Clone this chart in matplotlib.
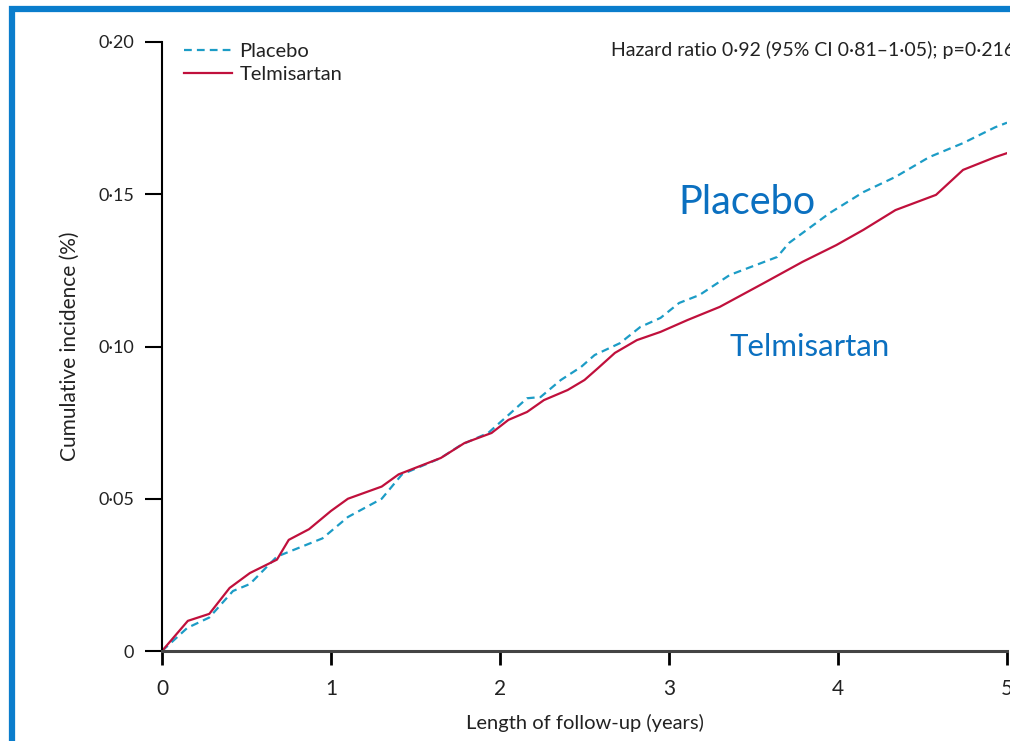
import matplotlib
matplotlib.use("Agg")
from matplotlib import pyplot as plt
from matplotlib.patches import Rectangle

# cumulative incidence (years, proportion)
placebo_x = [0, 0.15, 0.28, 0.42, 0.52, 0.68, 0.77, 0.95, 1.1, 1.3, 1.42, 1.65, 1.77,
             1.93, 2.06, 2.16, 2.24, 2.36, 2.48, 2.56, 2.71, 2.83, 2.95, 3.06, 3.18,
             3.36, 3.64, 3.71, 3.95, 4.15, 4.34, 4.54, 4.74, 4.93, 5.0]
placebo_y = [0, 0.0076, 0.011, 0.0197, 0.022, 0.031, 0.033, 0.037, 0.044, 0.050, 0.058,
             0.0634, 0.0677, 0.0716, 0.078, 0.083, 0.0834, 0.089, 0.0933, 0.0972, 0.1011,
             0.1064, 0.1094, 0.1143, 0.1169, 0.1235, 0.1294, 0.134, 0.1438, 0.1507,
             0.1557, 0.1622, 0.1668, 0.172, 0.1735]

telmi_x = [0, 0.153, 0.28, 0.4, 0.52, 0.68, 0.75, 0.87, 1.0, 1.1, 1.3, 1.4, 1.65, 1.79,
           1.95, 2.05, 2.16, 2.26, 2.4, 2.5, 2.58, 2.68, 2.81, 2.95, 3.11, 3.30, 3.56,
           3.79, 3.99, 4.15, 4.34, 4.58, 4.74, 4.93, 5.0]
telmi_y = [0, 0.0099, 0.0122, 0.0207, 0.0256, 0.030, 0.0365, 0.040, 0.046, 0.050, 0.054,
           0.058, 0.0634, 0.0683, 0.0716, 0.0759, 0.0785, 0.0824, 0.0857, 0.089, 0.0929,
           0.0979, 0.1021, 0.1048, 0.1087, 0.1130, 0.1208, 0.1278, 0.1333, 0.1383,
           0.1448, 0.1498, 0.158, 0.1622, 0.1635]

xticks = [0, 1, 2, 3, 4, 5]
yticks = [0, 0.05, 0.10, 0.15, 0.20]
ytick_labels = ["0", "0·05", "0·10", "0·15", "0·20"]

W, H = 1010, 741
plt.rcParams['font.family'] = ['Lato', 'DejaVu Sans']
fig = plt.figure(figsize=(W / 100, H / 100), dpi=100)

xmax = 5.0
ax = fig.add_axes([162 / W, 90 / H, 845 / W, 609 / H])

ax.plot(placebo_x, placebo_y, color='#1c9cc6', lw=1.6, dashes=(3.5, 2.3), label='Placebo')
ax.plot(telmi_x, telmi_y, color='#c0103c', lw=1.6, label='Telmisartan')

ax.set_xlim(0, xmax)
ax.set_ylim(0, 0.20)
ax.set_xticks(xticks)
ax.set_xticklabels([str(t) for t in xticks], fontsize=15, color='#222222')
ax.set_yticks(yticks)
ax.set_yticklabels(ytick_labels, fontsize=13, color='#222222')
ax.tick_params(axis='y', length=12, width=1.5, pad=8)
ax.tick_params(axis='x', length=10, width=2, pad=10)
for s in ['top', 'right']:
    ax.spines[s].set_visible(False)
ax.spines['left'].set_linewidth(1.5)
ax.spines['bottom'].set_linewidth(2.2)
ax.spines['bottom'].set_color('#444444')

ax.set_xlabel('Length of follow-up (years)', fontsize=14.5, color='#222222', labelpad=11)
ax.set_ylabel('Cumulative incidence (%)', fontsize=15, color='#222222', labelpad=13)

leg = ax.legend(loc='upper left', bbox_to_anchor=(176 / W, 1 - 35 / H),
                bbox_transform=fig.transFigure, frameon=False, fontsize=14.5,
                handlelength=2.4, handletextpad=0.35, labelspacing=0.3, borderaxespad=0)
for t in leg.get_texts():
    t.set_color('#222222')

fig.text(611 / W, 1 - 50 / H, 'Hazard ratio 0·92 (95% CI 0·81–1·05); p=0·216',
         fontsize=14.0, color='#222222', ha='left', va='center')

fig.text(747 / W, 1 - 202 / H, 'Placebo', fontsize=28.5, color='#0b70c0', ha='center', va='center')
fig.text(810 / W, 1 - 347 / H, 'Telmisartan', fontsize=22.5, color='#0b70c0', ha='center', va='center')

# blue slide frame (only top and left edges are visible)
fig.patches.append(Rectangle((12 / W, -0.5), 2, 1.5 - 8.5 / H, fill=False, lw=4.5,
                             edgecolor='#0a7dcc', transform=fig.transFigure, figure=fig))

fig.savefig('out.png', dpi=100)
